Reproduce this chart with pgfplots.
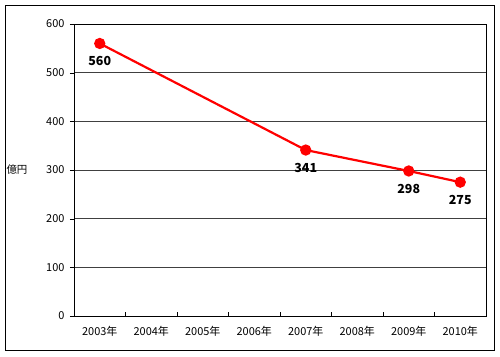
\documentclass[border=0pt]{standalone}
\usepackage{pgfplots}
\pgfplotsset{compat=1.18}
\usepackage{fontspec}
\setmainfont{Noto Sans CJK JP}
\begin{document}
\begin{tikzpicture}
\useasboundingbox (-74bp,-41bp) rectangle (426bp,316bp);
\draw[black, line width=0.8bp] (-69bp,-34bp) rectangle (420bp,311bp);
\begin{axis}[
  at={(0,0)}, anchor=south west,
  scale only axis, width=412bp, height=292bp,
  xmin=-0.5, xmax=7.5, ymin=0, ymax=600,
  xtick={0,...,7},
  xticklabels={2003年,2004年,2005年,2006年,2007年,2008年,2009年,2010年},
  minor xtick={0.5,1.5,...,6.5},
  major x tick style={draw=none},
  minor x tick style={black},
  minor tick length=4bp,
  xtick align=inside,
  ytick={0,100,...,600},
  ytick align=outside,
  major tick length=4bp,
  xtick pos=left, ytick pos=left,
  ymajorgrids, grid style={black!75, line width=0.6bp},
  axis line style={black, line width=0.8bp},
  tick style={black},
  /pgf/number format/assume math mode=true,
  ticklabel style={font=\fontsize{11}{13}\selectfont},
  xticklabel style={yshift=-7bp},
  yticklabel style={xshift=-2bp},
  ylabel={億円},
  ylabel style={rotate=-90, at={(rel axis cs:0,0.5)}, anchor=center, xshift=-57bp, font=\fontsize{10.5}{12}\selectfont},
  nodes near coords,
  every node near coord/.append style={anchor=center, yshift=-18bp, font=\bfseries\fontsize{12.5}{14}\selectfont, text=black},
]
\addplot[red, line width=2.2bp, mark=*, mark size=4.5bp, mark options={fill=red, draw=red}]
  coordinates {(0,560) (4,341) (6,298) (7,275)};
\end{axis}
\end{tikzpicture}
\end{document}
